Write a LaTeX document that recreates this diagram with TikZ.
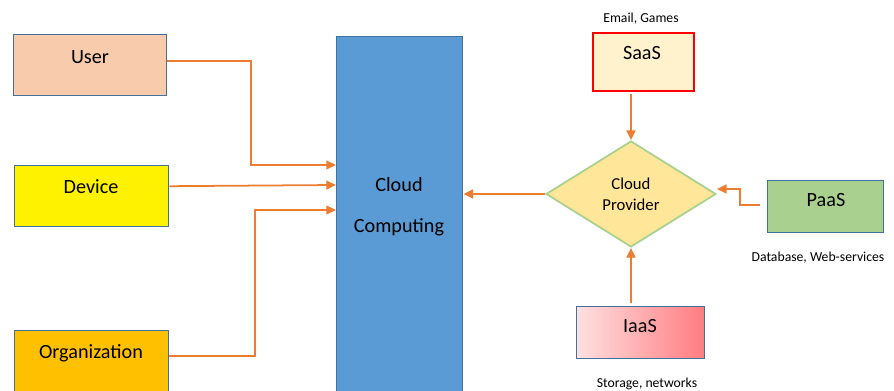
\documentclass[tikz,border=0pt]{standalone}
\usepackage{fontspec}
\setmainfont{Carlito}
\usetikzlibrary{shapes.geometric,arrows.meta}

\definecolor{boxblue}{HTML}{41719C}
\definecolor{linkorange}{HTML}{ED7D31}
\definecolor{userfill}{HTML}{F8CBAD}
\definecolor{orgfill}{HTML}{FFC000}
\definecolor{ccfill}{HTML}{5B9BD5}
\definecolor{saasfill}{HTML}{FFF2CC}
\definecolor{provfill}{HTML}{FFE699}
\definecolor{provline}{HTML}{A9D18E}
\definecolor{paasfill}{HTML}{A9D08E}
\definecolor{iaasleft}{HTML}{FFE0E0}
\definecolor{iaasright}{HTML}{FF7C80}

\begin{document}
\begin{tikzpicture}[x=0.02cm,y=-0.02cm,
	box/.style={draw=boxblue,line width=0.8pt,rectangle,anchor=north west,inner sep=0pt},
	link/.style={draw=linkorange,line width=1pt,-{Triangle[length=5.5pt,width=5pt]}},
	big/.style={anchor=base,font=\fontsize{11.5}{14}\selectfont},
	mid/.style={anchor=base,font=\fontsize{9.5}{11}\selectfont},
	small/.style={anchor=base,font=\fontsize{7.8}{9}\selectfont}]
		\useasboundingbox (0,0) rectangle (894,391);

		% left side
		\node[box,fill=userfill,minimum width=3.06cm,minimum height=1.22cm] (user) at (13,34) {};
		\node[box,fill=yellow,minimum width=3.08cm,minimum height=1.22cm] (device) at (14,165) {};
		\node[box,fill=orgfill,minimum width=3.08cm,minimum height=1.24cm] (org) at (14,330) {};
		\node[box,fill=ccfill,minimum width=2.52cm,minimum height=7.2cm] (cc) at (336,36) {};

		\node[big] at (90,64)   {User};
		\node[big] at (91,194)  {Device};
		\node[big] at (91,359)  {Organization};
		\node[big] at (399,192) {Cloud};
		\node[big] at (399,233) {Computing};

		% right side
		\node[box,draw=red,line width=1.2pt,fill=saasfill,minimum width=2.02cm,minimum height=1.16cm] (saas) at (592,32) {};
		\node[diamond,draw=provline,line width=1pt,fill=provfill,inner sep=0pt,minimum width=3.4cm,minimum height=2.12cm] (prov) at (631,194) {};
		\node[box,fill=paasfill,minimum width=2.32cm,minimum height=1.04cm] (paas) at (767,180) {};
		\node[box,left color=iaasleft,right color=iaasright,minimum width=2.56cm,minimum height=1.04cm] (iaas) at (576,306) {};

		\node[big] at (642,60)   {SaaS};
		\node[small] at (641,23) {Email, Games};
		\node[mid] at (631,190)  {Cloud};
		\node[mid] at (631,211)  {Provider};
		\node[big] at (826,207)  {PaaS};
		\node[small] at (818,262) {Database, Web-services};
		\node[big] at (640,333)  {IaaS};
		\node[small] at (647,388) {Storage, networks};

		% connectors
		\draw[link] ([yshift=0.09cm]user.east) -| (251,165) -- (cc.west |- 0,165);
		\draw[link] ([yshift=0.2cm]device.east) -- (cc.west |- 0,185);
		\draw[link] ([yshift=0.12cm]org.east) -| (255,210) -- (cc.west |- 0,210);
		\draw[link] ([yshift=-0.04cm]saas.south -| prov.north) -- (prov.north);
		\draw[link] ([yshift=0.06cm]iaas.north -| prov.south) -- (prov.south);
		\draw[link] ([xshift=-0.14cm,yshift=0.04cm]paas.west) -| (740,189) -- (prov.east |- 0,189);
		\draw[link] (prov.west) -- (cc.east |- prov.west);
\end{tikzpicture}
\end{document}
